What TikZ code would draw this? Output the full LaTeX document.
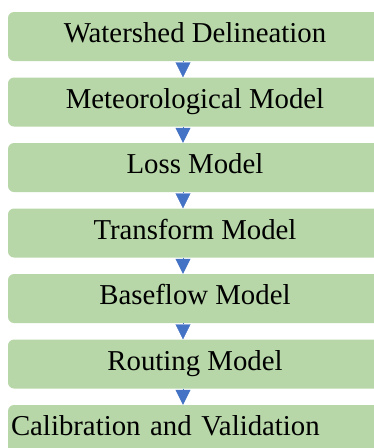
\documentclass[tikz,border=0pt]{standalone}
\usepackage{fontspec}
\setmainfont{Liberation Serif}
\usetikzlibrary{arrows.meta}

\definecolor{stepgreen}{HTML}{B7D7A8}
\definecolor{stepblue}{HTML}{4472C4}

\begin{document}
\begin{tikzpicture}[x=1pt,y=-1pt,
        stepbox/.style={fill=stepgreen,rounded corners=6pt,minimum width=374pt,minimum height=49pt,
                        inner sep=0pt,text height=22pt,text depth=10pt,font=\fontsize{28.8}{34}\selectfont},
        flow/.style={stepblue,-{Triangle[width=15pt,length=15pt]}}]
                        \useasboundingbox (0,0) rectangle (374,448);
                        \coordinate (axis) at (183,0);

                        \node[stepbox] (shed) at(195,36.5) {Watershed Delineation};
                        \node[stepbox] (met) at(195,102) {Meteorological Model};
                        \node[stepbox] (loss) at(195,167.5) {Loss Model};
                        \node[stepbox] (trans) at(195,233) {Transform Model};
                        \node[stepbox] (base) at(195,298.5) {Baseflow Model};
                        \node[stepbox] (route) at(195,364) {Routing Model};
                        \node[stepbox,text width=368pt,inner xsep=3pt,align=left] (calib) at(195,429.5) {Calibration and Validation};

                        \draw[flow] (shed.south -| axis)--(met.north -| axis);
                        \draw[flow] (met.south -| axis)--(loss.north -| axis);
                        \draw[flow] (loss.south -| axis)--(trans.north -| axis);
                        \draw[flow] (trans.south -| axis)--(base.north -| axis);
                        \draw[flow] (base.south -| axis)--(route.north -| axis);
                        \draw[flow] (route.south -| axis)--(calib.north -| axis);
                    \end{tikzpicture}
\end{document}
